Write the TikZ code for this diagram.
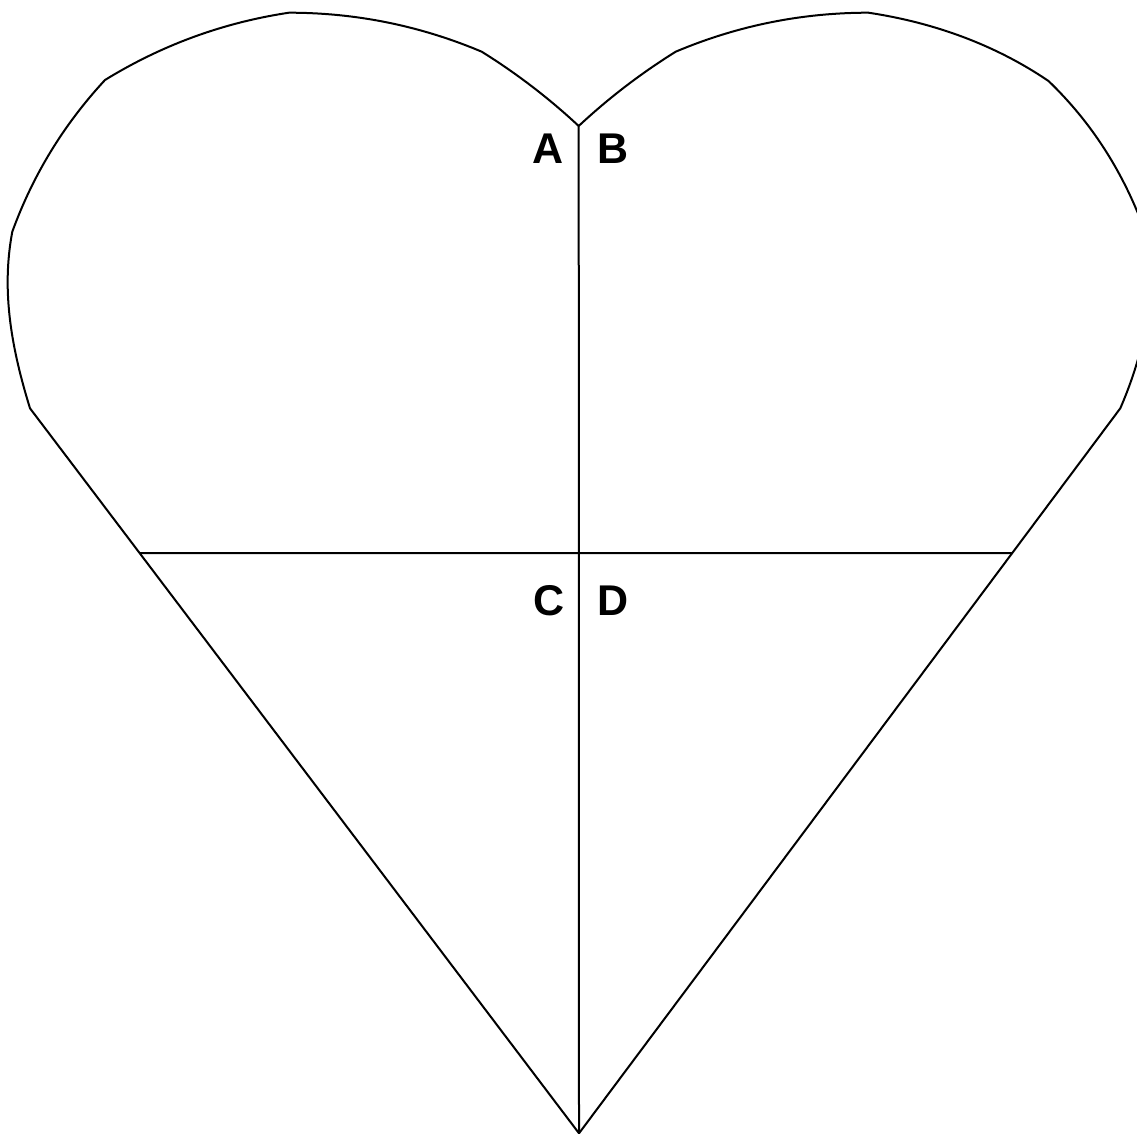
\documentclass[tikz,border=0pt]{standalone}
\usepackage{fontspec}
\setmainfont{Liberation Sans}
\begin{document}
\begin{tikzpicture}[x=1pt,y=-1pt,
  outline/.style={line width=2pt,line join=round},
  lbl/.style={inner sep=0pt,font=\fontsize{43}{50}\selectfont\bfseries}]
\useasboundingbox (0,0) rectangle (1137,1134);
\clip (0,0) rectangle (1137,1134);
% key points
\coordinate (top) at (578.7,126);
\coordinate (P1) at (481.7,51.7);
\coordinate (P2) at (289,12.7);
\coordinate (P3) at (105,80);
\coordinate (P4) at (12.3,231.7);
\coordinate (P5) at (30,408.3);
\coordinate (Q1) at (675.7,51.7);
\coordinate (Q2) at (868.4,12.7);
\coordinate (Q3) at (1048.5,81);
\coordinate (Q4) at (1145.1,231.7);
\coordinate (Q5) at (1120.3,408.3);
\coordinate (bot) at (579,1133.3);
\coordinate (hl) at (intersection of P5--bot and 0,553--100,553);
\coordinate (hr) at (intersection of Q5--bot and 0,553--100,553);
\coordinate (mid) at (578.7,553);
% outline
\draw[outline] (top) .. controls (548.7,98.0) and (516.4,73.3) .. (P1)
  .. controls (420.1,25.7) and (355.8,12.7) .. (P2)
  .. controls (223.1,22.6) and (161.7,45.1) .. (P3)
  .. controls (63.9,124.3) and (33.0,174.8) .. (P4)
  .. controls (0.8,292.4) and (12.2,350.6) .. (P5)
  -- (bot) -- (Q5)
  .. controls (1145.2,350.6) and (1156.6,292.4) .. (Q4)
  .. controls (1124.4,174.8) and (1093.5,124.3) .. (Q3)
  .. controls (995.7,45.1) and (934.3,22.6) .. (Q2)
  .. controls (801.6,12.7) and (737.3,25.7) .. (Q1)
  .. controls (641.0,73.3) and (608.7,98.0) .. (top);
% inner lines
\draw[outline] (top) -- (bot);
\draw[outline] (hl) -- (hr);
% labels
\node[lbl] (A) at (548.5,149) {A};
\node[lbl] (B) at (613.5,149) {B};
\node[lbl] (C) at (549,601) {C};
\node[lbl] (D) at (613.5,601) {D};
\end{tikzpicture}
\end{document}
